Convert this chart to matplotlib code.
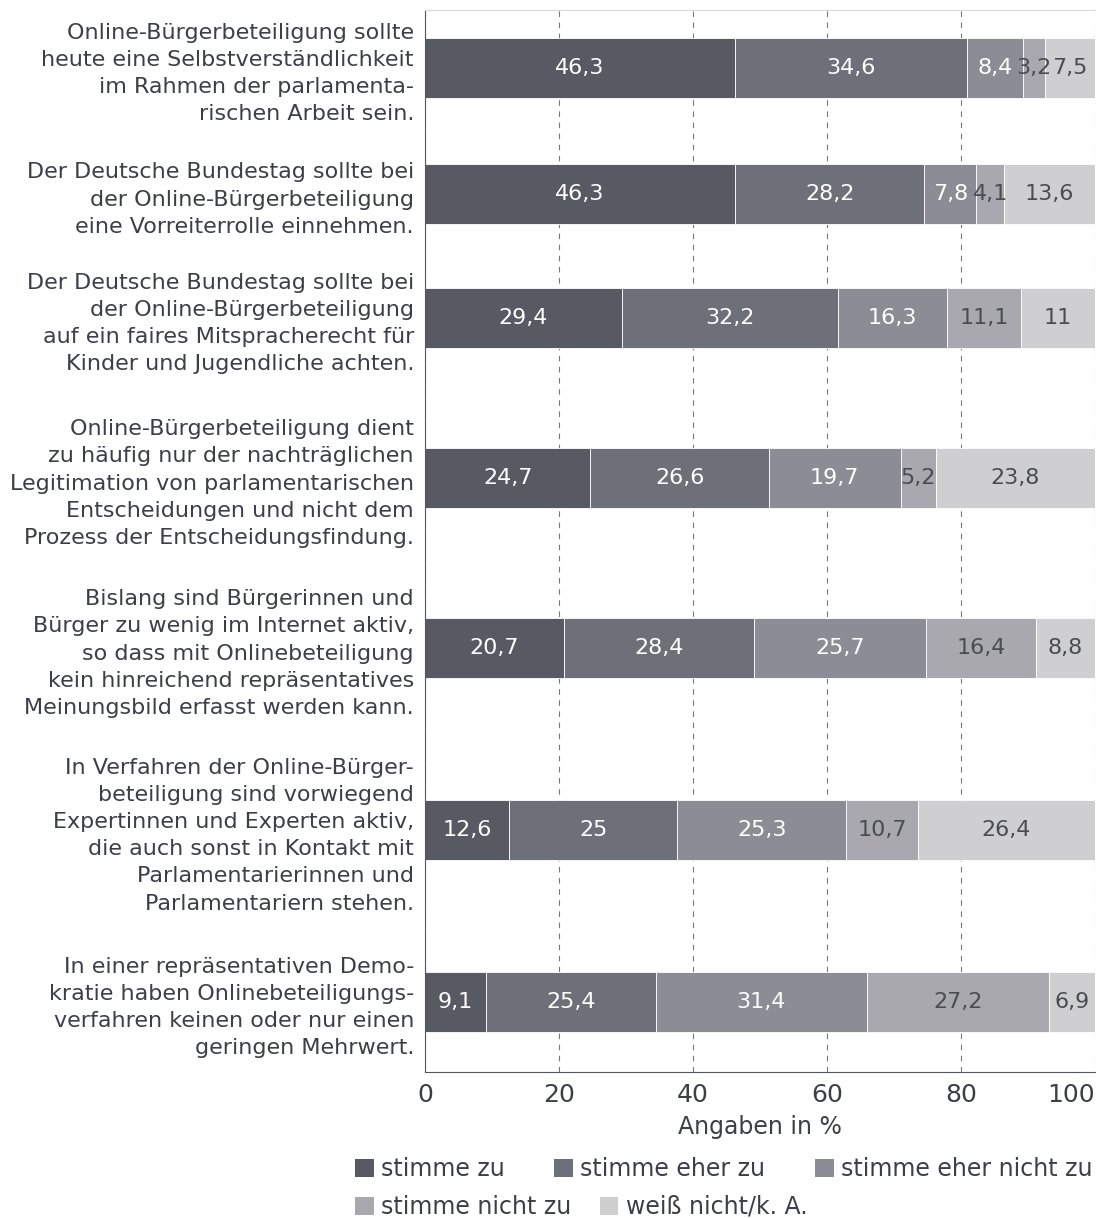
import matplotlib.pyplot as plt
from matplotlib.patches import Patch

plt.rcParams['font.family'] = ['DejaVu Sans']

questions = [
    "Online-Bürgerbeteiligung sollte\nheute eine Selbstverständlichkeit\nim Rahmen der parlamenta-\nrischen Arbeit sein.",
    "Der Deutsche Bundestag sollte bei\nder Online-Bürgerbeteiligung\neine Vorreiterrolle einnehmen.",
    "Der Deutsche Bundestag sollte bei\nder Online-Bürgerbeteiligung\nauf ein faires Mitspracherecht für\nKinder und Jugendliche achten.",
    "Online-Bürgerbeteiligung dient\nzu häufig nur der nachträglichen\nLegitimation von parlamentarischen\nEntscheidungen und nicht dem\nProzess der Entscheidungsfindung.",
    "Bislang sind Bürgerinnen und\nBürger zu wenig im Internet aktiv,\nso dass mit Onlinebeteiligung\nkein hinreichend repräsentatives\nMeinungsbild erfasst werden kann.",
    "In Verfahren der Online-Bürger-\nbeteiligung sind vorwiegend\nExpertinnen und Experten aktiv,\ndie auch sonst in Kontakt mit\nParlamentarierinnen und\nParlamentariern stehen.",
    "In einer repräsentativen Demo-\nkratie haben Onlinebeteiligungs-\nverfahren keinen oder nur einen\ngeringen Mehrwert.",
]
answers = ["stimme zu", "stimme eher zu", "stimme eher nicht zu",
           "stimme nicht zu", "weiß nicht/k. A."]

stimme_zu = [46.3, 46.3, 29.4, 24.7, 20.7, 12.6, 9.1]
eher_zu = [34.6, 28.2, 32.2, 26.6, 28.4, 25, 25.4]
eher_nicht_zu = [8.4, 7.8, 16.3, 19.7, 25.7, 25.3, 31.4]
nicht_zu = [3.2, 4.1, 11.1, 5.2, 16.4, 10.7, 27.2]
weiss_nicht = [7.5, 13.6, 11, 23.8, 8.8, 26.4, 6.9]
series = [stimme_zu, eher_zu, eher_nicht_zu, nicht_zu, weiss_nicht]

colors = ['#575a62', '#6e7079', '#8b8c94', '#a8a8ae', '#cfcfd1']
label_colors = ['white', 'white', 'white', '#4a4c53', '#4a4c53']
text_col = '#3c3f46'

# row centres (pixel rows of the figure), bars span 60 px
row_y = [68, 194, 318, 478, 648, 830, 1002]

fig = plt.figure(figsize=(11.07, 12.18), dpi=100)
ax = fig.add_axes([425 / 1107, 1 - 1072 / 1218, 670 / 1107, 1062 / 1218])
ax.set_xlim(0, 100)
ax.set_ylim(1072, 10)

left = [0] * len(questions)
for vals, c, tc in zip(series, colors, label_colors):
    ax.barh(row_y, vals, left=left, height=60, color=c, edgecolor='white',
            linewidth=0.6, zorder=2)
    for y, l, v in zip(row_y, left, vals):
        txt = f"{v:g}".replace('.', ',')
        ax.text(l + v / 2, y, txt, ha='center', va='center', color=tc,
                fontsize=16, zorder=3)
    left = [a + b for a, b in zip(left, vals)]

ax.set_xticks([0, 20, 40, 60, 80, 100])
ax.tick_params(axis='x', length=0, labelsize=18, colors=text_col, pad=8)
ax.get_xticklabels()[-1].set_horizontalalignment('right')
ax.set_yticks(row_y)
ax.set_yticklabels(questions, fontsize=16, color=text_col)
ax.tick_params(axis='y', length=0, pad=8)
for t in ax.get_yticklabels():
    t.set_linespacing(1.45)
    t.set_horizontalalignment('right')

ax.grid(axis='x', linestyle=(0, (5, 5)), color='#77787e', linewidth=0.8, zorder=0)
ax.set_xlabel("Angaben in %", fontsize=17, color=text_col, labelpad=6)
ax.spines['right'].set_visible(False)
ax.spines['top'].set_color('#d8d8da')
ax.spines['left'].set_color('#55575e')
ax.spines['bottom'].set_color('#55575e')

h = [Patch(facecolor=c, edgecolor='none') for c in colors]
leg_kw = dict(loc='upper left', frameon=False, fontsize=17, handlelength=0.8,
              handleheight=0.8, handletextpad=0.3, labelcolor=text_col,
              borderaxespad=0, borderpad=0)
fig.legend(h[:3], answers[:3], ncol=3, columnspacing=2.1,
           bbox_to_anchor=(355 / 1107, 1 - 1157 / 1218), **leg_kw)
fig.legend(h[3:], answers[3:], ncol=2, columnspacing=1.2,
           bbox_to_anchor=(355 / 1107, 1 - 1195 / 1218), **leg_kw)

fig.savefig("out.png", dpi=100)
